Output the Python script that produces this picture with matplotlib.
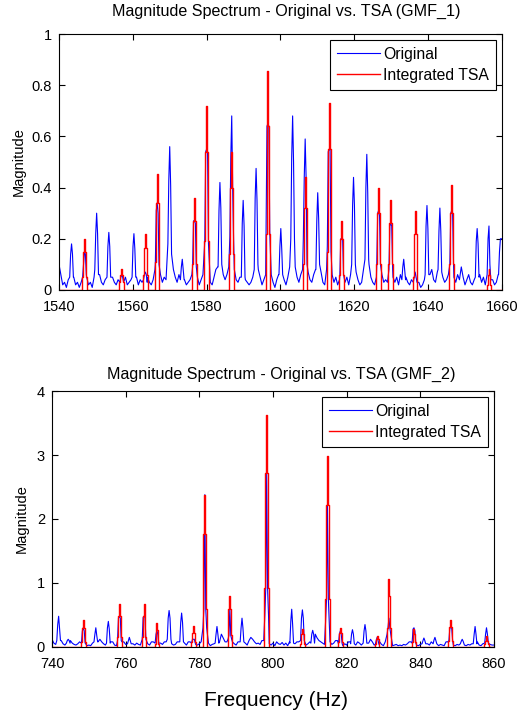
import numpy as np
import matplotlib.pyplot as plt

plt.rcParams['font.family'] = ['Liberation Sans', 'DejaVu Sans']

# ---------- GMF_1 (1540 - 1660 Hz) ----------
start1, stop1 = 1540, 1660
# background of the original spectrum, every 0.5 Hz, in 1/100
noise1 = [10, 6, 2, 3, 1, 4, 5, 5, 5, 2,
          3, 1, 3, 6, 6, 5, 2, 3, 1, 5,
          8, 8, 6, 3, 2, 4, 5, 8, 8, 5,
          3, 2, 4, 3, 5, 6, 5, 2, 3, 4,
          6, 6, 5, 2, 4, 3, 6, 6, 5, 3,
          2, 4, 8, 9, 9, 6, 3, 5, 4, 9,
          9, 9, 8, 5, 3, 6, 6, 6, 4, 2,
          3, 4, 6, 9, 9, 5, 2, 4, 6, 9,
          9, 9, 3, 2, 5, 8, 9, 9, 9, 6,
          4, 6, 9, 9, 9, 8, 4, 3, 5, 9,
          9, 4, 3, 2, 3, 5, 9, 9, 8, 5,
          2, 4, 6, 9, 9, 6, 3, 1, 4, 6,
          9, 9, 4, 2, 5, 9, 9, 9, 9, 5,
          3, 6, 8, 9, 9, 7, 4, 3, 6, 8,
          9, 9, 7, 3, 2, 8, 9, 9, 6, 3,
          5, 2, 4, 9, 9, 3, 5, 2, 6, 9,
          9, 7, 4, 2, 3, 8, 9, 9, 10, 5,
          3, 2, 5, 9, 9, 6, 3, 4, 3, 9,
          9, 5, 3, 5, 2, 6, 9, 9, 5, 3,
          2, 4, 9, 9, 9, 3, 1, 2, 4, 9,
          9, 6, 8, 4, 3, 7, 9, 9, 5, 3,
          4, 6, 9, 9, 5, 3, 6, 4, 9, 5,
          2, 4, 6, 3, 2, 4, 9, 9, 6, 3,
          5, 2, 9, 9, 9, 4, 2, 3, 6, 9,
          20]
peak1_freq = [1543.4, 1546.9, 1550.2, 1553.5, 1557.0, 1560.3, 1563.4, 1566.6,
              1570.0, 1573.4, 1576.7, 1580.0, 1583.6, 1586.8, 1589.9, 1593.4,
              1596.6, 1600.1, 1603.3, 1606.7, 1610.1, 1613.2, 1616.6, 1619.8,
              1623.4, 1626.6, 1629.9, 1633.4, 1636.5, 1639.7, 1643.2, 1646.4,
              1653.3, 1656.5, 1659.6]
peak1_vals = [[0.05, 0.14, 0.18, 0.14, 0.05], [0.05, 0.10, 0.15, 0.14, 0.06],
              [0.08, 0.22, 0.30, 0.22, 0.06], [0.05, 0.17, 0.225, 0.17, 0.05],
              [0.03, 0.05, 0.06, 0.05, 0.03], [0.05, 0.17, 0.22, 0.16, 0.05],
              [0.04, 0.06, 0.07, 0.06, 0.03], [0.10, 0.31, 0.34, 0.30, 0.10],
              [0.18, 0.43, 0.56, 0.41, 0.14], [0.04, 0.09, 0.12, 0.08, 0.04],
              [0.09, 0.27, 0.27, 0.26, 0.09], [0.19, 0.54, 0.55, 0.54, 0.18],
              [0.09, 0.31, 0.42, 0.32, 0.10], [0.21, 0.52, 0.68, 0.40, 0.20],
              [0.05, 0.26, 0.35, 0.25, 0.05], [0.08, 0.36, 0.475, 0.35, 0.10],
              [0.22, 0.64, 0.65, 0.64, 0.23], [0.06, 0.17, 0.24, 0.16, 0.06],
              [0.20, 0.52, 0.68, 0.50, 0.20], [0.20, 0.44, 0.59, 0.44, 0.10],
              [0.08, 0.27, 0.38, 0.28, 0.10], [0.17, 0.54, 0.55, 0.55, 0.15],
              [0.06, 0.20, 0.20, 0.20, 0.06], [0.10, 0.33, 0.44, 0.33, 0.10],
              [0.12, 0.40, 0.53, 0.38, 0.12], [0.10, 0.30, 0.31, 0.29, 0.10],
              [0.08, 0.25, 0.26, 0.25, 0.08], [0.04, 0.09, 0.12, 0.08, 0.04],
              [0.03, 0.05, 0.07, 0.05, 0.03], [0.06, 0.25, 0.33, 0.24, 0.06],
              [0.08, 0.23, 0.32, 0.23, 0.07], [0.10, 0.30, 0.31, 0.30, 0.10],
              [0.05, 0.19, 0.24, 0.18, 0.05], [0.06, 0.20, 0.25, 0.10, 0.04],
              [0.06, 0.15, 0.20, 0.20, 0.20]]
# TSA lines: [outer, rect, spike]
tsa1_freq = [1546.9, 1557.0, 1563.4, 1566.6, 1576.7, 1580.0, 1586.8, 1596.6,
             1606.7, 1613.2, 1616.6, 1626.6, 1629.9, 1636.5, 1646.4, 1656.5]
tsa1_vals = [[0.05, 0.15, 0.20], [0.03, 0.06, 0.08], [0.06, 0.165, 0.22],
             [0.11, 0.34, 0.455], [0.10, 0.27, 0.36], [0.19, 0.54, 0.72],
             [0.14, 0.40, 0.54], [0.22, 0.64, 0.855], [0.10, 0.32, 0.44],
             [0.15, 0.55, 0.73], [0.06, 0.20, 0.27], [0.10, 0.30, 0.40],
             [0.10, 0.26, 0.35], [0.05, 0.22, 0.31], [0.10, 0.30, 0.41],
             [0.02, 0.06, 0.08]]

# ---------- GMF_2 (740 - 860 Hz) ----------
start2, stop2 = 740, 860
noise2 = [12, 6, 4, 10, 10, 10, 5, 3, 6, 8,
          10, 6, 4, 3, 5, 8, 8, 8, 4, 2,
          3, 2, 6, 8, 8, 8, 12, 8, 5, 3,
          6, 8, 8, 8, 3, 2, 5, 8, 8, 8,
          4, 8, 8, 8, 5, 3, 6, 4, 3, 8,
          8, 8, 5, 3, 8, 8, 8, 19, 12, 6,
          4, 8, 8, 8, 8, 5, 3, 4, 8, 8,
          8, 8, 6, 3, 8, 8, 8, 12, 4, 3,
          5, 8, 8, 8, 8, 6, 2, 4, 5, 8,
          8, 8, 20, 14, 8, 8, 8, 8, 8, 5,
          3, 8, 8, 8, 8, 6, 3, 10, 15, 12,
          8, 5, 6, 4, 10, 10, 10, 10, 5, 3,
          6, 2, 8, 5, 4, 7, 3, 6, 2, 8,
          8, 8, 5, 8, 8, 8, 8, 4, 3, 5,
          8, 8, 8, 20, 14, 10, 8, 6, 4, 8,
          8, 8, 4, 6, 10, 10, 10, 4, 2, 5,
          3, 8, 8, 8, 5, 3, 8, 6, 3, 8,
          8, 8, 6, 12, 8, 3, 8, 8, 8, 4,
          2, 8, 8, 8, 5, 2, 3, 4, 2, 3,
          2, 4, 3, 5, 8, 8, 8, 5, 3, 2,
          4, 8, 8, 3, 5, 3, 8, 8, 3, 5,
          2, 4, 3, 2, 8, 8, 8, 5, 3, 2,
          4, 3, 8, 8, 3, 2, 4, 3, 5, 8,
          8, 8, 3, 2, 5, 8, 8, 8, 4, 3,
          3]
peak2_freq = [741.8, 744.4, 748.5, 751.9, 755.3, 758.3, 761.0, 765.0, 768.5,
              771.8, 775.2, 778.4, 781.5, 784.8, 788.3, 791.6, 798.3, 805.1,
              808.0, 810.8, 814.8, 818.3, 821.6, 825.0, 828.3, 831.5, 838.3,
              841.0, 844.0, 848.3, 851.4, 854.9, 858.0]
peak2_vals = [[0.10, 0.35, 0.48, 0.30, 0.10], [0.06, 0.10, 0.12, 0.10, 0.06],
              [0.06, 0.25, 0.30, 0.25, 0.06], [0.08, 0.20, 0.30, 0.18, 0.08],
              [0.06, 0.30, 0.40, 0.28, 0.06], [0.10, 0.45, 0.48, 0.45, 0.10],
              [0.05, 0.10, 0.15, 0.10, 0.05], [0.12, 0.46, 0.48, 0.46, 0.12],
              [0.06, 0.20, 0.26, 0.19, 0.06], [0.12, 0.45, 0.57, 0.45, 0.12],
              [0.08, 0.38, 0.53, 0.38, 0.08], [0.06, 0.12, 0.12, 0.12, 0.06],
              [0.30, 0.60, 2.38, 0.60, 0.30], [0.06, 0.20, 0.32, 0.20, 0.06],
              [0.12, 0.18, 0.60, 0.18, 0.12], [0.08, 0.30, 0.45, 0.30, 0.08],
              [0.50, 0.92, 2.72, 0.92, 0.50], [0.06, 0.40, 0.59, 0.35, 0.06],
              [0.10, 0.45, 0.58, 0.45, 0.10], [0.06, 0.20, 0.26, 0.20, 0.06],
              [0.40, 0.75, 2.22, 0.75, 0.40], [0.05, 0.20, 0.25, 0.20, 0.05],
              [0.05, 0.20, 0.27, 0.20, 0.05], [0.06, 0.25, 0.35, 0.25, 0.06],
              [0.04, 0.10, 0.15, 0.10, 0.04], [0.20, 0.30, 0.45, 0.30, 0.20],
              [0.06, 0.28, 0.30, 0.25, 0.06], [0.05, 0.10, 0.14, 0.10, 0.05],
              [0.05, 0.11, 0.15, 0.10, 0.05], [0.10, 0.30, 0.30, 0.30, 0.10],
              [0.05, 0.09, 0.12, 0.09, 0.05], [0.05, 0.20, 0.32, 0.20, 0.05],
              [0.06, 0.20, 0.30, 0.20, 0.06]]
tsa2_freq = [748.5, 758.3, 765.0, 768.5, 778.4, 781.5, 788.3, 798.3, 808.0,
             814.8, 818.3, 828.3, 831.5, 838.3, 848.3, 858.0]
tsa2_vals = [[0.08, 0.30, 0.42], [0.15, 0.48, 0.67], [0.15, 0.48, 0.67],
             [0.05, 0.27, 0.38], [0.08, 0.22, 0.33], [0.60, 1.77, 2.38],
             [0.18, 0.60, 0.80], [0.92, 2.72, 3.63], [0.05, 0.20, 0.28],
             [0.75, 2.22, 2.98], [0.08, 0.22, 0.30], [0.04, 0.12, 0.17],
             [0.30, 0.80, 1.07], [0.08, 0.20, 0.28], [0.10, 0.31, 0.42],
             [0.04, 0.10, 0.17]]


def original_trace(start, noise, peak_freq, peak_vals):
    fn = start + 0.5 * np.arange(len(noise))
    yn = np.array(noise) / 100.0
    keep = np.ones(len(fn), dtype=bool)
    for f in peak_freq:
        keep &= np.abs(fn - f) > 0.55
    xs = list(fn[keep])
    ys = list(yn[keep])
    for f, v in zip(peak_freq, peak_vals):
        xs += [f - 0.5, f - 0.25, f, f + 0.25, f + 0.5]
        ys += list(v)
    order = np.argsort(xs)
    return np.array(xs)[order], np.array(ys)[order]


def tsa_trace(start, stop, tsa_freq, tsa_vals):
    xs = [start]
    ys = [0.0]
    for f, (outer, rect, spike) in zip(tsa_freq, tsa_vals):
        xs += [f - 0.75, f - 0.5, f - 0.25, f, f + 0.25, f + 0.5, f + 0.75]
        ys += [0.0, outer, rect, spike, rect, outer, 0.0]
    xs.append(stop)
    ys.append(0.0)
    return np.array(xs), np.array(ys)


def style_axes(ax, start, stop, ymax, yticks, yticklabels):
    ax.set_xlim(start, stop)
    ax.set_ylim(0, ymax)
    ax.set_xticks(np.arange(start, stop + 1, 20))
    ax.set_yticks(yticks)
    ax.set_yticklabels(yticklabels)
    ax.tick_params(direction='in', top=True, right=True, length=4,
                   width=0.8, labelsize=10.5)
    ax.tick_params(axis='x', pad=7)
    ax.tick_params(axis='y', pad=5)
    for s in ax.spines.values():
        s.set_linewidth(0.8)
    ax.set_ylabel('Magnitude', fontsize=10.5)
    leg = ax.legend(loc='upper right', fontsize=11.3, fancybox=False,
                    framealpha=1, edgecolor='black', handlelength=2.7,
                    borderaxespad=0.35, borderpad=0.45, labelspacing=0.4,
                    handletextpad=0.25)
    leg.get_frame().set_linewidth(0.8)


fig = plt.figure(figsize=(5.18, 7.13), dpi=100)
ax1 = fig.add_axes([0.1139, 0.5933, 0.855, 0.359])
ax2 = fig.add_axes([0.1004, 0.0926, 0.853, 0.359])

x, y = original_trace(start1, noise1, peak1_freq, peak1_vals)
ax1.plot(x, y, color='#0000ff', lw=0.8, label='Original')
x, y = tsa_trace(start1, stop1, tsa1_freq, tsa1_vals)
ax1.plot(x, y, color='#ff0000', lw=1.0, drawstyle='steps-mid', label='Integrated TSA')
style_axes(ax1, start1, stop1, 1, [0, 0.2, 0.4, 0.6, 0.8, 1],
           ['0', '0.2', '0.4', '0.6', '0.8', '1'])
ax1.set_title('Magnitude Spectrum - Original vs. TSA (GMF_1)', fontsize=11.6,
              pad=13, x=0.514)
ax1.yaxis.set_label_coords(-0.075, 0.5)

x, y = original_trace(start2, noise2, peak2_freq, peak2_vals)
ax2.plot(x, y, color='#0000ff', lw=0.8, label='Original')
x, y = tsa_trace(start2, stop2, tsa2_freq, tsa2_vals)
ax2.plot(x, y, color='#ff0000', lw=1.0, drawstyle='steps-mid', label='Integrated TSA')
style_axes(ax2, start2, stop2, 4, [0, 1, 2, 3, 4], ['0', '1', '2', '3', '4'])
ax2.set_title('Magnitude Spectrum - Original vs. TSA (GMF_2)', fontsize=11.6,
              pad=9, x=0.518)
ax2.yaxis.set_label_coords(-0.052, 0.5)

fig.text(0.533, 1 - 701 / 713, 'Frequency (Hz)', ha='center', va='center', fontsize=15)

fig.savefig('out.png', dpi=100)
